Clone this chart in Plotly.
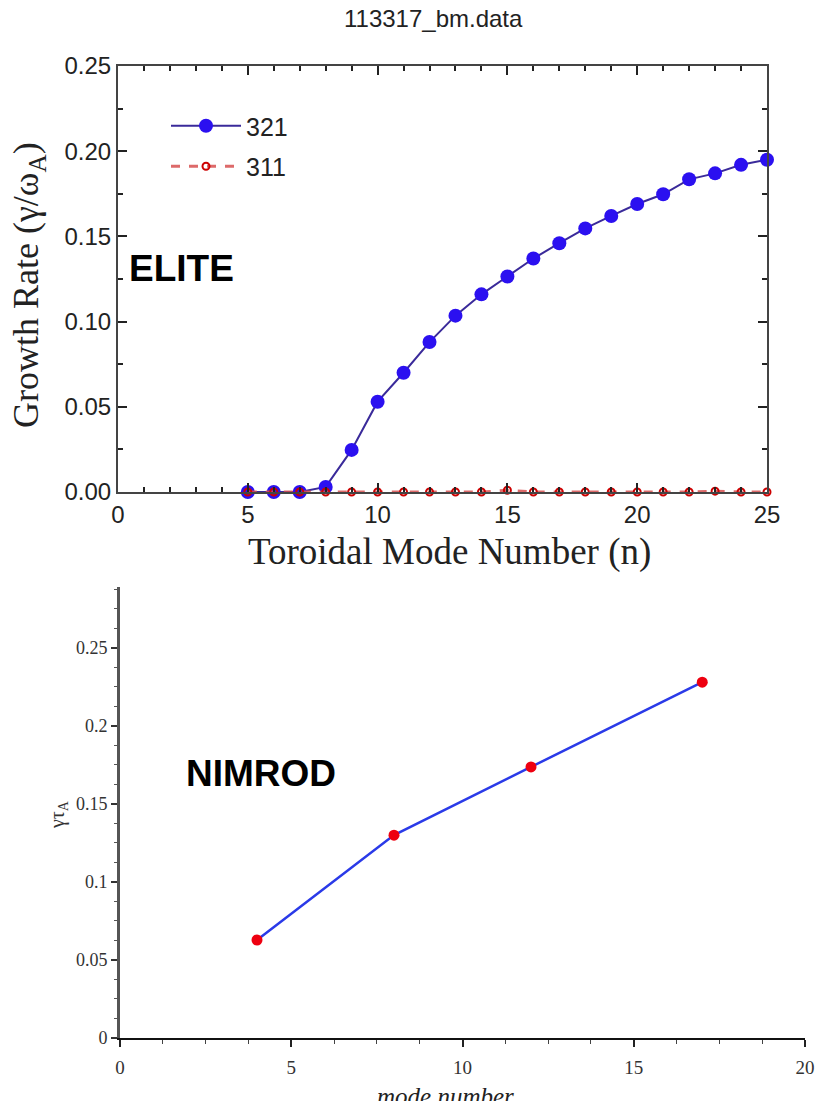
import plotly.graph_objects as go

W, H = 817, 1101

# ELITE growth rates vs toroidal mode number
n_elite = [5, 6, 7, 8, 9, 10, 11, 12, 13, 14, 15, 16, 17, 18, 19, 20, 21, 22, 23, 24, 25]
gamma_321 = [0.0, 0.0, 0.0, 0.003, 0.0247, 0.053, 0.070, 0.088, 0.1035, 0.116, 0.1265,
             0.137, 0.146, 0.1547, 0.162, 0.169, 0.1747, 0.1835, 0.187, 0.192, 0.195]
gamma_311 = [0.0, 0.0, 0.0, 0.0, 0.0, 0.0, 0.0, 0.0, 0.0, 0.0, 0.001,
             0.0, 0.0, 0.0, 0.0, 0.0, 0.0, 0.0, 0.0005, 0.0, 0.0]

# NIMROD growth rates vs mode number
n_nimrod = [4, 8, 12, 17]
gamma_nimrod = [0.0628, 0.130, 0.1737, 0.228]

top_yticks = [0.0, 0.05, 0.10, 0.15, 0.20, 0.25]
top_xticks = [0, 5, 10, 15, 20, 25]
bot_yticks = [0, 0.05, 0.1, 0.15, 0.2, 0.25]
bot_xticks = [0, 5, 10, 15, 20]


def px_x(x):
    return x / W


def px_y(y):
    return 1 - y / H


SANS = "Liberation Sans"
SERIF = "Liberation Serif"

fig = go.Figure()

fig.add_trace(go.Scatter(
    x=n_elite, y=gamma_321, name="321", mode="lines+markers", legendgroup="321",
    line=dict(color="#3a2a9a", width=2),
    marker=dict(color="#2b10f0", size=14),
    cliponaxis=False, xaxis="x", yaxis="y",
))
fig.add_trace(go.Scatter(
    x=n_elite, y=gamma_311, name="311", mode="lines+markers", legendgroup="311",
    line=dict(color="rgba(215,80,80,0.85)", width=3, dash="dash"),
    marker=dict(symbol="circle-open", color="#cc0000", size=7, line=dict(width=2)),
    cliponaxis=False, xaxis="x", yaxis="y",
))
fig.add_trace(go.Scatter(
    x=n_nimrod, y=gamma_nimrod, mode="lines+markers", showlegend=False,
    line=dict(color="#2a3ae8", width=2.5),
    marker=dict(color="#ee0010", size=11),
    cliponaxis=False, xaxis="x2", yaxis="y2",
))

frame_axis = dict(
    showgrid=False, zeroline=False, showline=True, linecolor="#444", linewidth=2,
    mirror="allticks", ticks="inside", ticklen=9, tickwidth=2, tickcolor="#222",
    tickfont=dict(family=SANS, size=24, color="#222"), automargin=False,
)

fig.update_layout(
    width=W, height=H,
    margin=dict(l=0, r=0, t=0, b=0, autoexpand=False),
    paper_bgcolor="white", plot_bgcolor="white",
    showlegend=True,
    legend=dict(
        x=px_x(166), y=px_y(103), xanchor="left", yanchor="top",
        font=dict(family=SANS, size=25, color="#222"),
        bgcolor="rgba(0,0,0,0)", itemwidth=70, tracegroupgap=5,
    ),
    xaxis=dict(
        frame_axis, domain=[px_x(118), px_x(767)], range=[0, 25],
        tickvals=top_xticks, ticktext=[str(v) for v in top_xticks],
        minor=dict(dtick=1, ticks="inside", ticklen=5, tickwidth=2, tickcolor="#222"),
        anchor="y",
    ),
    yaxis=dict(
        frame_axis, domain=[px_y(492), px_y(66)], range=[0, 0.25],
        tickvals=top_yticks, ticktext=[f"{v:.2f}" for v in top_yticks],
        minor=dict(dtick=0.025, tick0=0, ticks="inside", ticklen=5, tickwidth=2, tickcolor="#222"),
        anchor="x",
    ),
    xaxis2=dict(
        showgrid=False, zeroline=False, showline=True, linecolor="#111", linewidth=2,
        domain=[px_x(120), px_x(805)], range=[0, 20], automargin=False,
        tickvals=bot_xticks, ticks="outside", ticklen=7, tickwidth=1.5, tickcolor="#222",
        minor=dict(dtick=1.25, tick0=0, ticks="outside", ticklen=4, tickwidth=1, tickcolor="#444"),
        tickfont=dict(family=SERIF, size=19, color="#333"), ticklabelstandoff=4,
        anchor="y2",
    ),
    yaxis2=dict(
        showgrid=False, zeroline=False, showline=True, linecolor="#555", linewidth=3,
        domain=[px_y(1038), px_y(587)], range=[0, 0.289], automargin=False,
        tickvals=bot_yticks, ticktext=["0", "0.05", "0.1", "0.15", "0.2", "0.25"],
        ticks="outside", ticklen=6, tickwidth=1.5, tickcolor="#333",
        minor=dict(dtick=0.0125, tick0=0, ticks="outside", ticklen=3, tickwidth=1, tickcolor="#555"),
        tickfont=dict(family=SERIF, size=18, color="#333"),
        anchor="x2",
    ),
)

annotations = [
    dict(text="113317_bm.data", x=px_x(433), y=px_y(18),
         font=dict(family=SANS, size=24, color="#222")),
    dict(text="Growth Rate (γ/ω<sub>A</sub>)", x=px_x(29), y=px_y(285), textangle=-90,
         font=dict(family=SERIF, size=36, color="#222")),
    dict(text="Toroidal Mode Number (n)", x=px_x(450), y=px_y(552),
         font=dict(family=SERIF, size=37, color="#222")),
    dict(text="<b>ELITE</b>", x=px_x(127), y=px_y(268), xanchor="left",
         font=dict(family=SANS, size=37, color="#000")),
    dict(text="<b>NIMROD</b>", x=px_x(184), y=px_y(773), xanchor="left",
         font=dict(family=SANS, size=37, color="#000")),
    dict(text="γτ<sub>A</sub>", x=px_x(58), y=px_y(815), textangle=-90,
         font=dict(family=SERIF, size=20, color="#333")),
    dict(text="<i>mode number</i>", x=px_x(445), y=px_y(1096),
         font=dict(family=SERIF, size=25, color="#222")),
]
for a in annotations:
    a.setdefault("xanchor", "center")
    a.update(xref="paper", yref="paper", showarrow=False, yanchor="middle")
    fig.add_annotation(**a)

fig.write_html("out.html")
